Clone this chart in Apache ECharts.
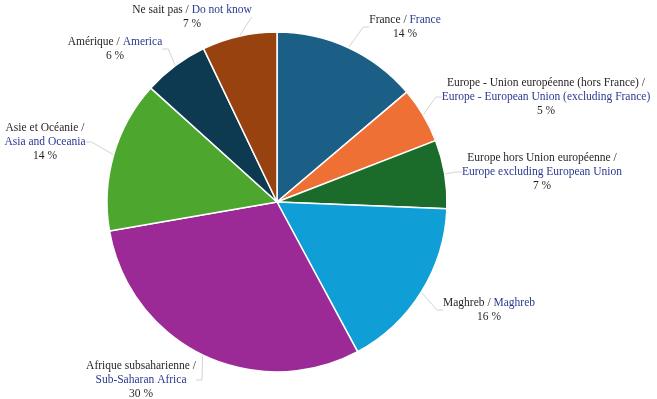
<!DOCTYPE html>
<html>
<head>
<meta charset="utf-8">
<script src="https://cdn.jsdelivr.net/npm/echarts@6/dist/echarts.min.js"></script>
<style>html,body{margin:0;padding:0;background:#fff}#c{width:657px;height:399px}</style>
</head>
<body>
<div id="c"></div>
<script>
// Data
var labelsFr = ['France /', 'Europe - Union européenne (hors France) /', 'Europe hors Union européenne /', 'Maghreb /', 'Afrique subsaharienne /', 'Asie et Océanie /', 'Amérique /', 'Ne sait pas /'];
var labelsEn = ['France', 'Europe - European Union (excluding France)', 'Europe excluding European Union', 'Maghreb', 'Sub-Saharan Africa', 'Asia and Oceania', 'America', 'Do not know'];
var values = [13.8, 5.3, 6.5, 16.5, 30.1, 14.4, 6.2, 7.1];
var pctLabels = ['14 %', '5 %', '7 %', '16 %', '30 %', '14 %', '6 %', '7 %'];

// Styling / layout (not data)
var colors = ['#1b5f86', '#ee7034', '#1b6b2b', '#0f9ed5', '#9b2a96', '#4da72e', '#0d3a50', '#97420f'];
var twoLine = [false, true, true, false, true, true, false, false];
var labelPos = [[405, 27], [546, 97], [542, 172], [489, 310], [141, 380], [45, 142], [115, 49], [192, 17]];

var chart = echarts.init(document.getElementById('c'), null, {renderer: 'canvas'});
var data = values.map(function (v, i) {
  return {value: v, name: labelsEn[i], itemStyle: {color: colors[i]}};
});
chart.setOption({
  animation: false,
  series: [{
    type: 'pie',
    center: [277, 202],
    radius: [0, 170],
    startAngle: 90,
    clockwise: true,
    data: data,
    itemStyle: {borderColor: '#ffffff', borderWidth: 1.5},
    label: {
      show: true,
      position: 'outside',
      overflow: 'none',
      edgeDistance: 0,
      bleedMargin: 0,
      fontFamily: 'Liberation Serif',
      fontSize: 11.5,
      lineHeight: 14,
      align: 'center',
      formatter: function (p) {
        var i = p.dataIndex;
        var sep = twoLine[i] ? '\n' : ' ';
        return '{fr|' + labelsFr[i] + '}' + sep + '{en|' + labelsEn[i] + '}\n{p|' + pctLabels[i] + '}';
      },
      rich: {
        fr: {color: '#231f20', fontFamily: 'Liberation Serif', fontSize: 11.5, lineHeight: 14},
        en: {color: '#2b3990', fontFamily: 'Liberation Serif', fontSize: 11.5, lineHeight: 14},
        p: {color: '#231f20', fontFamily: 'Liberation Serif', fontSize: 11.5, lineHeight: 14}
      }
    },
    labelLine: {show: true, length: 8, length2: 6, lineStyle: {color: '#d4d4d4', width: 1}},
    labelLayout: function (params) {
      var pos = labelPos[params.dataIndex];
      return {x: pos[0], y: pos[1], align: 'center', verticalAlign: 'middle'};
    }
  }]
});
</script>
</body>
</html>
